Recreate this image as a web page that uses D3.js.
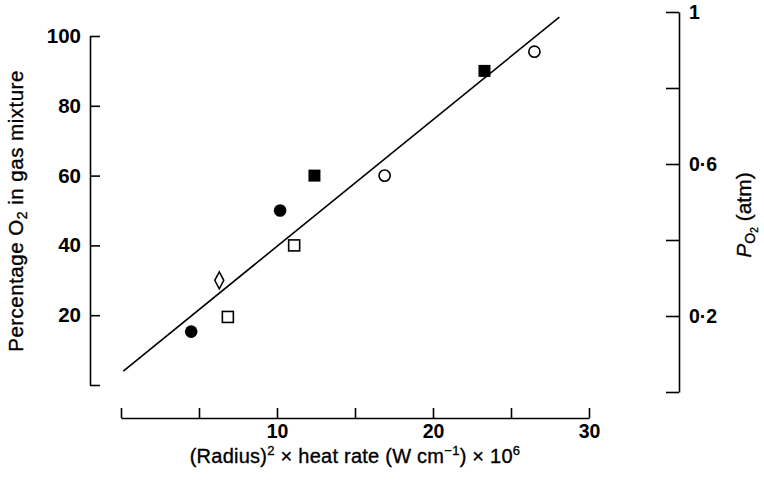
<!DOCTYPE html>
<html><head><meta charset="utf-8">
<script src="https://cdn.jsdelivr.net/npm/d3@7"></script>
<style>
html,body{margin:0;padding:0;background:#fff;}
text{font-family:"Liberation Sans",Arial,Helvetica,sans-serif;fill:#000;}
.lbl{stroke:#000;stroke-width:0.35px;}
</style></head>
<body><svg id="c" width="764" height="489"></svg>
<script>
// ---- data ----
const xValues = [4.5, 6.3, 6.85, 11.1, 10.2, 12.4, 16.9, 23.3, 26.5];
const yValues = [15.3, 30, 19.5, 40, 50, 60, 60, 90, 95.5];
const shapes  = ["filledCircle","openDiamond","openSquare","openSquare","filledCircle","filledSquare","openCircle","filledSquare","openCircle"];
const fitLineX = [0.15, 28.1];
const fitLineY = [4.0, 105.4];
const xTicks = [0, 5, 10, 15, 20, 25, 30];
const xTickLabels = ["", "", "10", "", "20", "", "30"];
const yTicks = [0, 20, 40, 60, 80, 100];
const yTickLabels = ["", "20", "40", "60", "80", "100"];
const pTicks = [0, 0.2, 0.4, 0.6, 0.8, 1];
const pTickLabels = ["", "0·2", "", "0·6", "", "1"];

const svg = d3.select("#c");
const x = d3.scaleLinear().domain([0, 30]).range([121, 589]);
const y = d3.scaleLinear().domain([0, 100]).range([385, 36]);
const yp = d3.scaleLinear().domain([0, 1]).range([392, 12]);

function styleAxis(g, fs){
  g.select(".domain").attr("stroke","#000").attr("stroke-width",1.6);
  g.selectAll(".tick line").attr("stroke","#000").attr("stroke-width",1.6);
  g.selectAll(".tick text").style("font-size", fs+"px").style("font-weight","bold").attr("fill","#000");
}

// bottom axis
const gx = svg.append("g").attr("transform","translate(0,418)")
  .call(d3.axisBottom(x).tickValues(xTicks).tickSize(-10).tickSizeOuter(0).tickPadding(6)
    .tickFormat((d,i)=>xTickLabels[i]));
styleAxis(gx, 19.5);

// left axis
const gy = svg.append("g").attr("transform","translate(90,0)")
  .call(d3.axisLeft(y).tickValues(yTicks).tickSize(-10).tickSizeOuter(0).tickPadding(9)
    .tickFormat((d,i)=>yTickLabels[i]));
styleAxis(gy, 20.5);

// right axis
const gp = svg.append("g").attr("transform","translate(679,0)")
  .call(d3.axisRight(yp).tickValues(pTicks).tickSize(-13).tickSizeOuter(0).tickPadding(10)
    .tickFormat((d,i)=>pTickLabels[i]));
styleAxis(gp, 19.5);

// fitted line
svg.append("line")
  .attr("x1", x(fitLineX[0])).attr("y1", y(fitLineY[0]))
  .attr("x2", x(fitLineX[1])).attr("y2", y(fitLineY[1]))
  .attr("stroke","#000").attr("stroke-width",1.6);

// points
const pts = xValues.map((v,i)=>({x:v, y:yValues[i], s:shapes[i]}));
const g = svg.append("g");
pts.forEach(p=>{
  const cx = x(p.x), cy = y(p.y);
  if (p.s === "filledCircle") {
    g.append("circle").attr("cx",cx).attr("cy",cy).attr("r",6.3).attr("fill","#000");
  } else if (p.s === "openCircle") {
    g.append("circle").attr("cx",cx).attr("cy",cy).attr("r",5.6).attr("fill","#fff").attr("stroke","#000").attr("stroke-width",1.6);
  } else if (p.s === "filledSquare") {
    g.append("rect").attr("x",cx-6).attr("y",cy-6).attr("width",12).attr("height",12).attr("fill","#000");
  } else if (p.s === "openSquare") {
    g.append("rect").attr("x",cx-5.5).attr("y",cy-5.5).attr("width",11).attr("height",11).attr("fill","#fff").attr("stroke","#000").attr("stroke-width",1.6);
  } else if (p.s === "openDiamond") {
    g.append("path").attr("d",`M${cx},${cy-8.5} L${cx+4.5},${cy} L${cx},${cy+8.5} L${cx-4.5},${cy} Z`)
      .attr("fill","#fff").attr("stroke","#000").attr("stroke-width",1.5);
  }
});

// axis titles
const xl = svg.append("text").attr("class","lbl").attr("x",355).attr("y",463).attr("text-anchor","middle")
  .style("font-size","20px").style("letter-spacing","0.25px");
xl.append("tspan").text("(Radius)");
xl.append("tspan").attr("dy",-8).style("font-size","13px").text("2");
xl.append("tspan").attr("dy",8).text(" × heat rate (W cm");
xl.append("tspan").attr("dy",-8).style("font-size","13px").text("−1");
xl.append("tspan").attr("dy",8).text(") × 10");
xl.append("tspan").attr("dy",-8).style("font-size","13px").text("6");

const yl = svg.append("text").attr("class","lbl").attr("transform","translate(23,211) rotate(-90)").attr("text-anchor","middle")
  .style("font-size","20.5px").style("letter-spacing","0.5px");
yl.append("tspan").text("Percentage O");
yl.append("tspan").attr("dy",4).style("font-size","14px").text("2");
yl.append("tspan").attr("dy",-4).text(" in gas mixture");

const pl = svg.append("text").attr("class","lbl").attr("transform","translate(751,215) rotate(-90)").attr("text-anchor","middle")
  .style("font-size","21px");
pl.append("tspan").style("font-style","italic").text("P");
pl.append("tspan").attr("dy",4).style("font-size","14px").text("O");
pl.append("tspan").attr("dy",2.5).style("font-size","10px").text("2");
pl.append("tspan").attr("dy",-6.5).text(" (atm)");
</script></body></html>
